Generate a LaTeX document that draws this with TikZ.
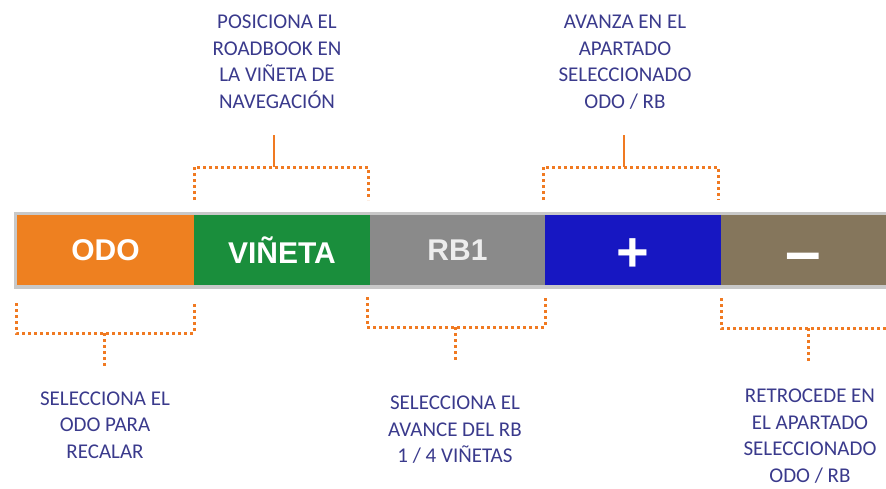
\documentclass[tikz,border=0pt]{standalone}
\usepackage{fontspec}
\setmainfont{Carlito}
\newfontfamily\arialfont{Liberation Sans}
\definecolor{odocol}{HTML}{EE8020}
\definecolor{vincol}{HTML}{1A8E3C}
\definecolor{rbcol}{HTML}{8A8A8A}
\definecolor{pluscol}{HTML}{1717C2}
\definecolor{minuscol}{HTML}{85765C}
\definecolor{framecol}{HTML}{C8C8C8}
\definecolor{notecol}{HTML}{3A3A8C}
\definecolor{linecol}{HTML}{F07A22}
\begin{document}
\begin{tikzpicture}[x=1pt, y=-1pt,
	box/.style={minimum width=176pt, minimum height=70pt, inner sep=0pt, outer sep=0pt,
		text=white, font=\arialfont\bfseries\fontsize{30}{36}\selectfont},
	sign/.style={box, font=\arialfont\bfseries\fontsize{#1}{60}\selectfont},
	note/.style={text=notecol, align=center, font=\fontsize{21}{26.5}\selectfont},
	bracket/.style={linecol, line width=3pt, dash pattern=on 3pt off 3pt},
	stem/.style={linecol, line width=2.8pt},
	]
	\useasboundingbox (0,0) rectangle (886,488);
	
	% Frame of the bar
	\fill[framecol] (14,212) rectangle (900,289);
	
	% Keys of the bar
	\node[box, fill=odocol, minimum width=177pt] (odo) at (105.5,250) {ODO};
	\node[box, fill=vincol] (vin) at (282,250) {VIÑETA};
	\node[box, fill=rbcol, minimum width=175pt, text=white!93!black] (rb) at (457.5,250) {RB1};
	\node[box, fill=pluscol] (plus) at (633,250) {};
	\node[box, fill=minuscol, minimum width=165pt] (minus) at (803.5,250) {};
	\node[sign=56, text=white] (plustxt) at ([yshift=-5pt]plus.center) {+};
	\node[sign=64, text=white] (minustxt) at ([yshift=-13pt]minus.center) {–};
	
	% Texts
	\node[note] (tvin) at (277,62) {POSICIONA EL\\ROADBOOK EN\\LA VIÑETA DE\\NAVEGACIÓN};
	\node[note] (tplus) at (625,62) {AVANZA EN EL\\APARTADO\\SELECCIONADO\\ODO / RB};
	\node[note] (todo) at (105,425) {SELECCIONA EL\\ODO PARA\\RECALAR};
	\node[note] (trb) at (455,430) {SELECCIONA EL\\AVANCE DEL RB\\1 / 4 VIÑETAS};
	\node[note] (tminus) at (810,436) {RETROCEDE EN\\EL APARTADO\\SELECCIONADO\\ODO / RB};
	
	% Free ends of the stems
	\coordinate (svin) at (274,135);
	\coordinate (splus) at (624,135);
	\coordinate (sodo) at (104,366);
	\coordinate (srb) at (455,360);
	\coordinate (sminus) at (808,361);
	
	% Brackets above
	\draw[bracket] ([yshift=15pt]vin.north west) |- ([xshift=-2pt,yshift=48pt]vin.north east)
	-- ([xshift=-2pt,yshift=15pt]vin.north east);
	\draw[stem] (svin |- 0,167) -- (svin);
	\draw[bracket] ([xshift=-2pt,yshift=15pt]plus.north west) |- ([xshift=-3pt,yshift=48pt]plus.north east)
	-- ([xshift=-3pt,yshift=15pt]plus.north east);
	\draw[stem] (splus |- 0,167) -- (splus);
	
	% Brackets below
	\draw[bracket] ([xshift=-1pt,yshift=-18pt]odo.south west) |- ([yshift=-48pt]odo.south east)
	-- ([yshift=-17pt]odo.south east);
	\draw[bracket] (sodo |- 0,333) -- (sodo);
	\draw[bracket] ([xshift=-3pt,yshift=-12pt]rb.south west) |- ([yshift=-42pt]rb.south east)
	-- ([yshift=-12pt]rb.south east);
	\draw[bracket] (srb |- 0,327) -- (srb);
	\draw[bracket] ([yshift=-13pt]minus.south west) |- ([xshift=4pt,yshift=-43pt]minus.south east);
	\draw[bracket] (sminus |- 0,328) -- (sminus);
\end{tikzpicture}
\end{document}
